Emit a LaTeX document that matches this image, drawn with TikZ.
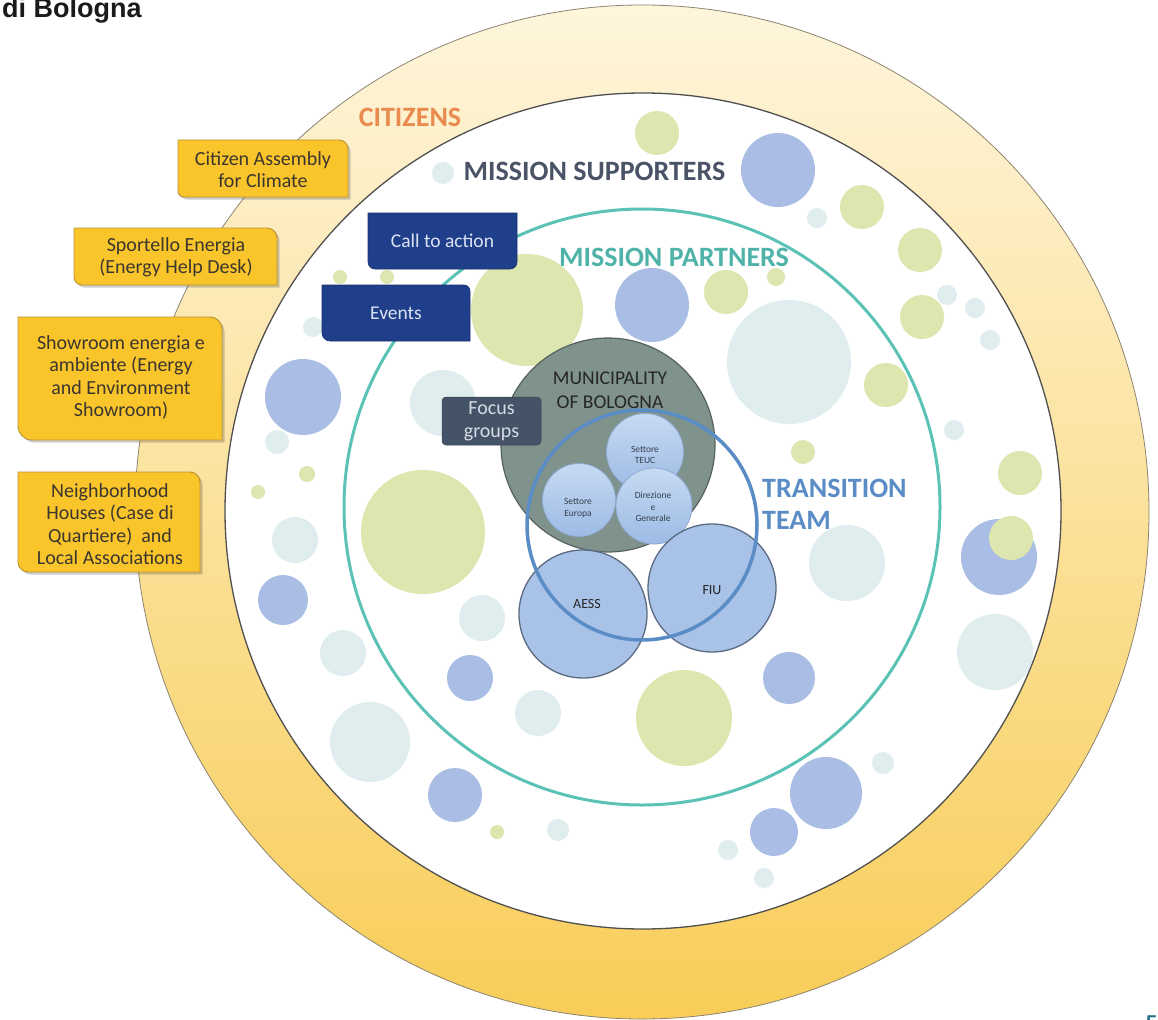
\documentclass[tikz,border=0pt]{standalone}
\usepackage{fontspec}
\setmainfont{Carlito}
\newfontfamily\headfont{Liberation Sans}
\usetikzlibrary{shadows}
\definecolor{ringTop}{HTML}{FEF5DC}
\definecolor{ringMid}{HTML}{FBE3A2}
\definecolor{ringBot}{HTML}{F8CD58}
\definecolor{ringEdge}{HTML}{8C8470}
\definecolor{innerEdge}{HTML}{505050}
\definecolor{citOrange}{HTML}{E98A4E}
\definecolor{supSlate}{HTML}{4A5466}
\definecolor{partTeal}{HTML}{4FB3A9}
\definecolor{tealLine}{HTML}{5BC2B6}
\definecolor{transBlue}{HTML}{5A8CC6}
\definecolor{muniFill}{HTML}{7F928C}
\definecolor{muniEdge}{HTML}{55625F}
\definecolor{muniText}{HTML}{262626}
\definecolor{subTop}{HTML}{C6DAF2}
\definecolor{subFill}{HTML}{9DBBE5}
\definecolor{subEdge}{HTML}{8DAAD3}
\definecolor{subText}{HTML}{34404F}
\definecolor{teamFill}{HTML}{A9C2E8}
\definecolor{teamEdge}{HTML}{5A6A80}
\definecolor{navy}{HTML}{203F8B}
\definecolor{navyText}{HTML}{DCE3F2}
\definecolor{slateBox}{HTML}{445368}
\definecolor{slateText}{HTML}{D5DCE4}
\definecolor{bubB}{HTML}{A9BDE5}
\definecolor{bubG}{HTML}{DDE6AE}
\definecolor{bubT}{HTML}{DFEDEE}
\definecolor{yFill}{HTML}{F9C52A}
\definecolor{yEdge}{HTML}{B99233}
\definecolor{yText}{HTML}{3B3630}
\definecolor{pageTeal}{HTML}{1F6F80}
\definecolor{titleBlack}{HTML}{1A1A1A}
\begin{document}
\begin{tikzpicture}[x=1pt,y=-1pt,
  ybox/.style={fill=yFill, draw=yEdge, line width=0.9pt,
    drop shadow={shadow xshift=2.5pt, shadow yshift=-2.5pt, opacity=0.28, fill=black!70}},
  ytext/.style={font=\fontsize{20}{22.5}\selectfont, text=yText, align=center, inner sep=0pt},
  nbox/.style={fill=navy, draw=navy!80!black, line width=0.6pt},
  ntext/.style={font=\fontsize{19.5}{23}\selectfont, text=navyText, align=center, inner sep=0pt},
  geom/.style={rectangle, inner sep=0pt, outer sep=0pt, draw=none},
  hdr/.style={font=\bfseries\fontsize{28}{31}\selectfont, inner sep=0pt},
  subcirc/.style={circle, inner sep=0pt, outer sep=0pt, draw=subEdge, line width=0.8pt,
    top color=subTop, bottom color=subFill, minimum size=#1},
  subtext/.style={font=\fontsize{9.5}{11.5}\selectfont, text=subText, align=center, inner sep=0pt},
  teamcirc/.style={circle, inner sep=0pt, outer sep=0pt, fill=teamFill, draw=teamEdge,
    line width=1.3pt, minimum size=#1},
  teamtext/.style={font=\fontsize{14}{16}\selectfont, text=muniText, inner sep=0pt},
]
\useasboundingbox (0,0) rectangle (1158,1019);
\fill[white] (0,0) rectangle (1158,1019);

% title fragment
\node[anchor=base west, inner sep=0pt, font=\headfont\bfseries\fontsize{27}{30}\selectfont,
  text=titleBlack] (title) at (2,18) {di Bologna};

% citizens ring
\path[draw=ringEdge, line width=0.8pt, top color=ringTop, middle color=ringMid, bottom color=ringBot]
  (642,512) circle (507);
% mission supporters area
\draw[innerEdge, line width=1.3pt, fill=white] (643,511) circle (418);

% bubbles
\foreach \bx/\by/\br/\bc in {443/173/11/bubT, 657/133/22/bubG, 778/170/37/bubB, 862/207/22/bubG,
  817/218/10/bubT, 920/250/22/bubG, 947/295/10/bubT, 922/317/22/bubG, 975/308/10/bubT,
  990/340/10/bubT, 954/430/10/bubT, 1020/473/22/bubG, 999/557/38/bubB, 1011/538/22/bubG,
  995/652/38/bubT, 883/763/11/bubT, 826/793/36/bubB, 774/832/24/bubB, 728/850/10/bubT,
  764/878/10/bubT, 497/832/7/bubG, 558/830/11/bubT, 455/795/27/bubB, 370/742/40/bubT,
  343/653/23/bubT, 283/600/25/bubB, 295/540/23/bubT, 258/492/7/bubG, 307/474/8/bubG,
  277/442/12/bubT, 303/397/38/bubB, 313/327/10/bubT, 340/277/7/bubG, 387/277/7/bubG,
  527/310/56/bubG, 652/305/37/bubB, 726/292/22/bubG, 776/277/9/bubG, 789/362/62/bubT,
  886/385/22/bubG, 803/452/12/bubG, 443/403/33/bubT, 423/532/62/bubG, 482/618/23/bubT,
  470/678/23/bubB, 538/713/23/bubT, 684/718/48/bubG, 789/678/26/bubB, 847/563/38/bubT}
  {\fill[\bc] (\bx,\by) circle (\br);}

% mission partners ring
\draw[tealLine, line width=3pt] (642,507) circle (298);

% ring labels
\node[hdr, text=citOrange] (cit) at (410,117) {CITIZENS};
\node[hdr, text=supSlate] (sup) at (594.5,171.5) {MISSION SUPPORTERS};
\node[hdr, text=partTeal] (par) at (674,257) {MISSION PARTNERS};

% municipality
\node[circle, inner sep=0pt, outer sep=0pt, minimum size=214, fill=muniFill, draw=muniEdge,
  line width=1.2pt] (muni) at (608,445) {};
\node[font=\fontsize{19.5}{22}\selectfont, text=muniText, inner sep=0pt] (muni1) at (610,378) {MUNICIPALITY};
\node[font=\fontsize{19.5}{22}\selectfont, text=muniText, inner sep=0pt] (muni2) at (610,402) {OF BOLOGNA};

% sub-units
\node[subcirc=73] (eur) at (579,500) {};
\node[subcirc=77] (teuc) at (645,452) {};
\node[subcirc=76] (dir) at (654,506) {};
\node[subtext] (teuc-t) at (645,455) {Settore\\TEUC};
\node[subtext] (eur-t) at (578,508) {Settore\\Europa};
\node[subtext] (dir-t) at (653,507) {Direzione\\e\\Generale};

% team members
\node[teamcirc=128] (aess) at (583,614) {};
\node[teamcirc=128] (fiu) at (712,588) {};

% transition team
\node[circle, inner sep=0pt, outer sep=0pt, minimum size=230, draw=transBlue, line width=3.5pt] (tt) at (642,525) {};
\node[hdr, text=transBlue, anchor=west] (tr1) at (762,488) {TRANSITION};
\node[hdr, text=transBlue, anchor=west] (tr2) at (762,520) {TEAM};
\node[teamtext] (aess-t) at (587,604) {AESS};
\node[teamtext] (fiu-t) at (712,590) {FIU};

% focus groups
\node[fill=slateBox, draw=slateBox!80!black, line width=0.5pt, rounded corners=4pt, minimum width=99,
  minimum height=48, inner sep=0pt, outer sep=0pt, font=\fontsize{20}{23}\selectfont, text=slateText,
  align=center] (fg) at (491.5,421) {Focus\\groups};

% call to action
\node[geom, minimum width=149, minimum height=56] (cta) at (442.5,241) {};
\path[nbox] (cta.north) -- (cta.north east) [rounded corners=7pt] -- (cta.south east)
  -- (cta.south west) [sharp corners] -- (cta.north west) -- cycle;
\node[ntext] (cta-t) at (cta) {Call to action};

% events
\node[geom, minimum width=148, minimum height=56] (ev) at (396,313) {};
\path[nbox] (ev.west) -- (ev.north west) [rounded corners=6pt] -- (ev.north east) [sharp corners]
  -- (ev.south east) [rounded corners=8pt] -- (ev.south west) [sharp corners] -- cycle;
\node[ntext] (ev-t) at (ev) {Events};

% yellow boxes
\node[geom, minimum width=170, minimum height=57] (ca) at (263,168.5) {};
\path[ybox] (ca.west) -- (ca.north west) [rounded corners=9pt] -- (ca.north east) [sharp corners]
  -- (ca.south east) [rounded corners=6pt] -- (ca.south west) [sharp corners] -- cycle;
\node[ytext] (ca-t) at (263,169.5) {Citizen Assembly\\for Climate};

\node[geom, minimum width=203, minimum height=57] (se) at (175.5,256.5) {};
\path[ybox] (se.west) -- (se.north west) [rounded corners=10pt] -- (se.north east) [sharp corners]
  -- (se.south east) [rounded corners=8pt] -- (se.south west) [sharp corners] -- cycle;
\node[ytext] (se-t) at (176,257.5) {Sportello Energia\\(Energy Help Desk)};

\node[geom, minimum width=204, minimum height=123] (sh) at (120,378.5) {};
\path[ybox] (sh.west) -- (sh.north west) [rounded corners=12pt] -- (sh.north east) [sharp corners]
  -- (sh.south east) [rounded corners=14pt] -- (sh.south west) [sharp corners] -- cycle;
\node[ytext] (sh-t) at (121,377.5) {Showroom energia e\\ambiente (Energy\\and Environment\\Showroom)};

\node[geom, minimum width=182, minimum height=100] (nh) at (109,522) {};
\path[ybox] (nh.west) -- (nh.north west) [rounded corners=10pt] -- (nh.north east) [sharp corners]
  -- (nh.south east) [rounded corners=10pt] -- (nh.south west) [sharp corners] -- cycle;
\node[ytext] (nh-t) at (110,524) {Neighborhood\\Houses (Case di\\Quartiere)~~and\\Local Associations};

% page number fragment (cut by the page edge, as in the source)
\node[anchor=base west, inner sep=0pt, font=\headfont\bfseries\fontsize{20}{24}\selectfont,
  text=pageTeal] (pgno) at (1146,1029) {5};
\end{tikzpicture}
\end{document}
